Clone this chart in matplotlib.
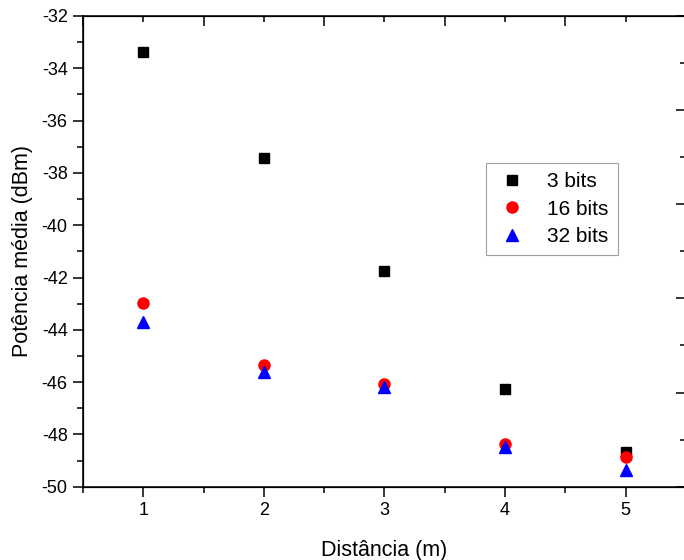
import matplotlib.pyplot as plt
from matplotlib.ticker import MultipleLocator

plt.rcParams['font.family'] = ['Liberation Sans', 'DejaVu Sans']
plt.rcParams['axes.unicode_minus'] = False

distancia = [1, 2, 3, 4, 5]
bits3 = [-33.38, -37.43, -41.75, -46.26, -48.66]
bits16 = [-42.97, -45.35, -46.07, -48.38, -48.85]
bits32 = [-43.70, -45.61, -46.19, -48.47, -49.36]

fig = plt.figure(figsize=(6.84, 5.6), dpi=100)
ax = fig.add_axes([83 / 684, 73.3 / 560, 603 / 684, 470.7 / 560])

ax.plot(distancia, bits3, 's', color='black', markersize=7.5, label='3 bits')
ax.plot(distancia, bits16, 'o', color='red', markersize=8, label='16 bits')
ax.plot(distancia, bits32, '^', color='blue', markersize=8.5, label='32 bits')

ax.set_xlim(0.5, 5.5)
ax.set_ylim(-50, -32)
ax.xaxis.set_major_locator(MultipleLocator(1))
ax.xaxis.set_minor_locator(MultipleLocator(0.5))
ax.yaxis.set_major_locator(MultipleLocator(2))
ax.yaxis.set_minor_locator(MultipleLocator(1))
ax.tick_params(which='major', direction='out', length=7, width=1.1, labelsize=13, pad=4)
ax.tick_params(which='minor', direction='out', length=4, width=1.1)
for s in ax.spines.values():
    s.set_linewidth(1.1)

ax.set_xlabel('Distância (m)', fontsize=15.5, labelpad=15)
ax.set_ylabel('Potência média (dBm)', fontsize=15.5, labelpad=6)

# top and right axes (unlinked 0-1 scales, inward ticks, no labels)
top = ax.twiny()
top.set_xlim(0, 1)
top.xaxis.set_major_locator(MultipleLocator(0.2))
top.xaxis.set_minor_locator(MultipleLocator(0.1))
top.tick_params(which='major', direction='in', length=7, width=1.1, labeltop=False)
top.tick_params(which='minor', direction='in', length=4, width=1.1)
right = ax.twinx()
right.set_ylim(0, 1)
right.yaxis.set_major_locator(MultipleLocator(0.2))
right.yaxis.set_minor_locator(MultipleLocator(0.1))
right.tick_params(which='major', direction='in', length=7, width=1.1, labelright=False)
right.tick_params(which='minor', direction='in', length=4, width=1.1)

leg = ax.legend(loc='upper left', bbox_to_anchor=((486 - 83) / 603, 1 - (163 - 16) / 470.7),
                fontsize=15, frameon=True, fancybox=False, handletextpad=0.9,
                borderpad=0.45, labelspacing=0.4, handlelength=1.6, borderaxespad=0)
leg.get_frame().set_edgecolor('#888888')
leg.get_frame().set_linewidth(0.8)

fig.savefig('out.png', dpi=100)
